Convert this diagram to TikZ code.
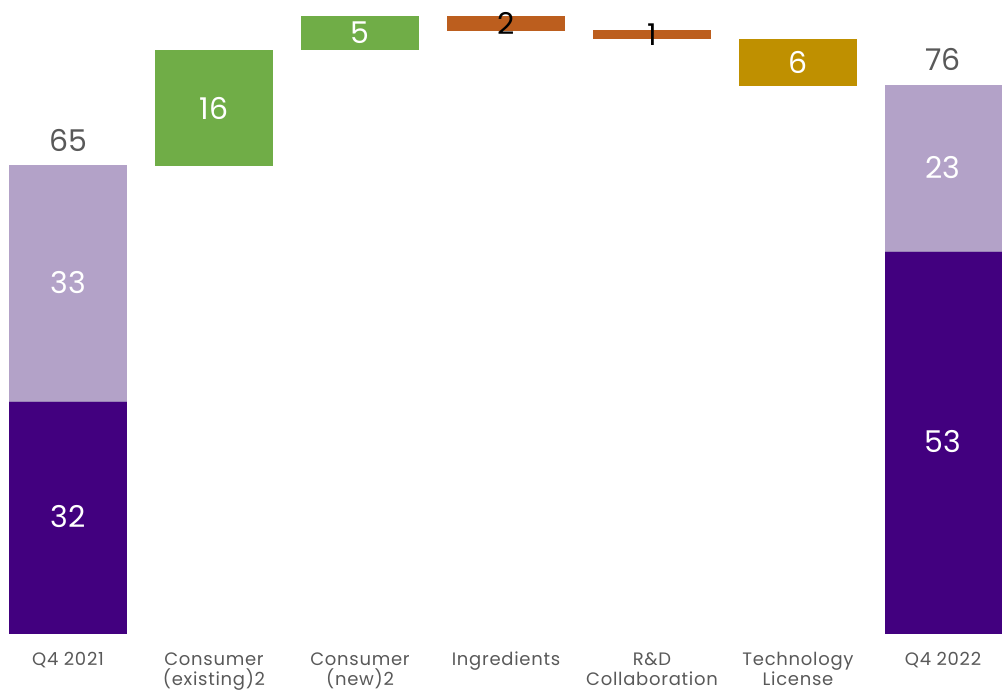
\documentclass[tikz,border=0pt]{standalone}
\usepackage{fontspec}
\setmainfont{Poppins}
\definecolor{lightp}{HTML}{B3A2C8}
\definecolor{darkp}{HTML}{42007F}
\definecolor{midp}{HTML}{9A82B8}
\definecolor{grn}{HTML}{70AD47}
\definecolor{org}{HTML}{BC5E1E}
\definecolor{gld}{HTML}{BF9000}
\definecolor{txtg}{HTML}{595959}
\tikzset{
  val/.style={font=\fontsize{30}{32}\selectfont, text=white, inner sep=0pt},
  valk/.style={font=\fontsize{30}{32}\selectfont, text=black, inner sep=0pt},
  tot/.style={font=\fontsize{30}{32}\selectfont, text=txtg, inner sep=0pt},
  cat/.style={font=\fontsize{18}{20.5}\selectfont\addfontfeature{LetterSpace=4}, text=txtg, align=center, inner sep=0pt, anchor=base}
}
\begin{document}
\begin{tikzpicture}[x=1pt,y=-1pt]
\useasboundingbox (0,0) rectangle (1002,691);
% Q4 2021
\fill[lightp] (9,165) rectangle (127,401);
\fill[darkp] (9,401) rectangle (127,634);
\draw[midp, line width=0.8pt] (9,401) -- (127,401);
\node[val] (a1) at (68,283) {33};
\node[val] (a2) at (68,517) {32};
\node[tot] (at) at (68,140) {65};
% Consumer existing
\fill[grn] (155,50) rectangle (273,166);
\node[val] (b1) at (214,108) {16};
% Consumer new
\fill[grn] (301,16) rectangle (419,50);
\node[val] (c1) at (360,33) {5};
% Ingredients
\fill[org] (447,16) rectangle (565,31);
\node[valk] (d1) at (506,23) {2};
% R&D
\fill[org] (593,30) rectangle (711,39);
\node[valk] (e1) at (652,35) {1};
% Technology
\fill[gld] (739,39) rectangle (857,86);
\node[val] (f1) at (798,62) {6};
% Q4 2022
\fill[lightp] (885,85) rectangle (1002,251);
\fill[darkp] (885,251) rectangle (1002,634);
\draw[midp, line width=0.8pt] (885,251) -- (1002,251);
\node[val] (g1) at (943,168) {23};
\node[val] (g2) at (943,442) {53};
\node[tot] (gt) at (943,59) {76};
% categories
\node[cat] (l1) at (68,665) {Q4 2021};
\node[cat] (l2) at (214,685.5) {Consumer\\(existing)2};
\node[cat] (l3) at (360,685.5) {Consumer\\(new)2};
\node[cat] (l4) at (506,665) {Ingredients};
\node[cat] (l5) at (652,685.5) {R\&D\\Collaboration};
\node[cat] (l6) at (798,685.5) {Technology\\License};
\node[cat] (l7) at (943,665) {Q4 2022};
\end{tikzpicture}
\end{document}
